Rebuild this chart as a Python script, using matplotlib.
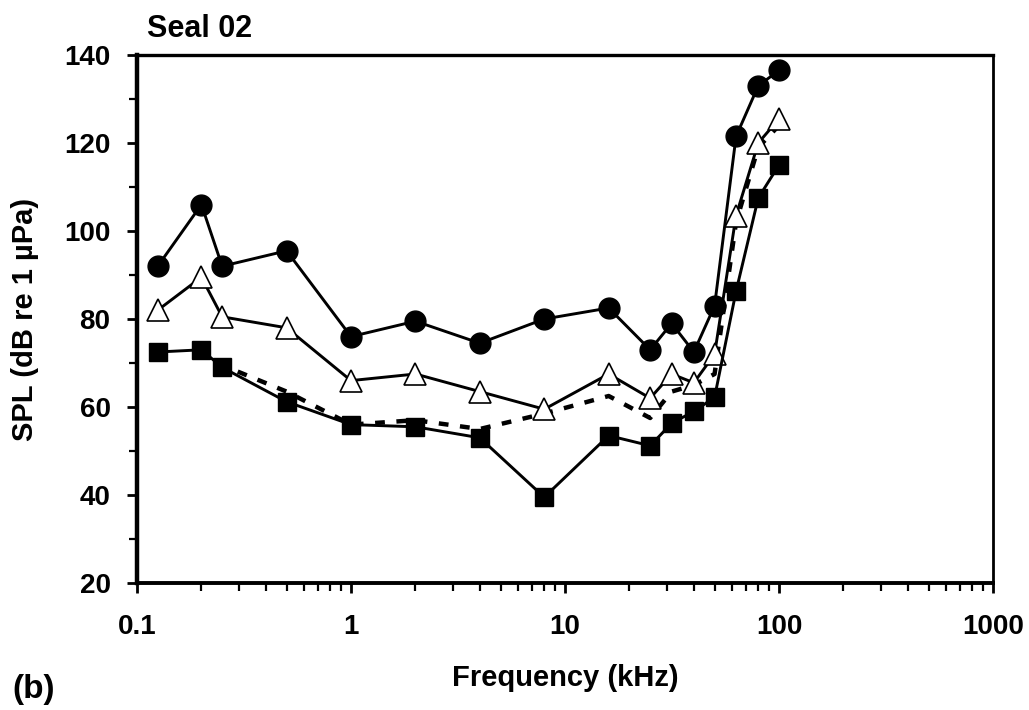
import numpy as np
import matplotlib.pyplot as plt
from matplotlib.ticker import FixedLocator, NullFormatter

plt.rcParams['font.family'] = ['Liberation Sans', 'DejaVu Sans']
plt.rcParams['font.weight'] = 'bold'

# Frequencies (kHz) and thresholds (dB re 1 uPa)
freq = [0.125, 0.2, 0.25, 0.5, 1, 2, 4, 8, 16, 25, 31.5, 40, 50, 63, 80, 100]
circles = [92, 106, 92, 95.5, 76, 79.5, 74.5, 80, 82.5, 73, 79, 72.5, 83, 121.5, 133, 136.5]
triangles = [82, 89.5, 80.5, 78, 66, 67.5, 63.5, 59.5, 67.5, 62, 67.5, 65.5, 72, 103.5, 120, 125.5]
squares = [72.5, 73, 69, 61.2, 56, 55.5, 53, 39.5, 53.5, 51.2, 56.3, 59, 62.2, 86.3, 107.5, 115]
dash_freq = [0.2, 0.25, 0.5, 1, 2, 4, 8, 16, 25, 31.5, 40, 50, 63, 80, 100]
dash_vals = [73, 69.5, 63.5, 56, 57, 55, 58.5, 62.5, 57.5, 63.5, 65, 67.5, 102, 119, 124]

fig = plt.figure(figsize=(10.29, 7.10), dpi=100)
ax = fig.add_axes([137 / 1029, 1 - 583 / 710, (993 - 137) / 1029, (583 - 55) / 710])

ax.plot(dash_freq, dash_vals, color='black', lw=3.2, ls=(0, (2.2, 2.6)), zorder=2)
ax.plot(freq, circles, color='black', lw=2.1, marker='o', ms=15,
        mfc='black', mec='black', zorder=3)
ax.plot(freq, triangles, color='black', lw=2.1, marker='^', ms=16,
        mfc='white', mec='black', mew=1.2, zorder=4)
ax.plot(freq, squares, color='black', lw=2.1, marker='s', ms=13,
        mfc='black', mec='black', zorder=5)

ax.set_xscale('log')
ax.set_xlim(0.1, 1000)
ax.set_ylim(20, 140)
ax.set_xticks([0.1, 1, 10, 100, 1000])
ax.set_xticklabels(['0.1', '1', '10', '100', '1000'])
ax.xaxis.set_minor_locator(FixedLocator(
    [m * d for d in (0.1, 1, 10, 100) for m in range(2, 10)]))
ax.xaxis.set_minor_formatter(NullFormatter())
ax.set_yticks(range(20, 141, 20))
ax.yaxis.set_minor_locator(FixedLocator(range(30, 140, 20)))

ax.spines['left'].set_linewidth(3.2)
ax.spines['bottom'].set_linewidth(2.8)
ax.spines['top'].set_linewidth(2.4)
ax.spines['right'].set_linewidth(2.0)
ax.tick_params(axis='both', which='major', direction='out', length=7, width=2,
               labelsize=20)
ax.tick_params(axis='x', which='major', pad=15)
ax.tick_params(axis='y', which='major', pad=12)
ax.tick_params(axis='both', which='minor', direction='out', length=6, width=1.6)
ax.tick_params(top=False, right=False, which='both')

# axis titles centred on the plot area
fig.text(565 / 1029, 1 - 686 / 710, 'Frequency (kHz)', fontsize=21,
         fontweight='bold', ha='center', va='baseline')
fig.text(25 / 1029, 1 - 319 / 710, 'SPL (dB re 1 µPa)', fontsize=21,
         fontweight='bold', ha='center', va='center', rotation=90)
fig.text(147 / 1029, 1 - 37 / 710, 'Seal 02', fontsize=22, fontweight='bold',
         ha='left', va='baseline')
fig.text(12 / 1029, 1 - 698 / 710, '(b)', fontsize=24, fontweight='bold',
         ha='left', va='baseline')

fig.savefig('out.png', dpi=100)
